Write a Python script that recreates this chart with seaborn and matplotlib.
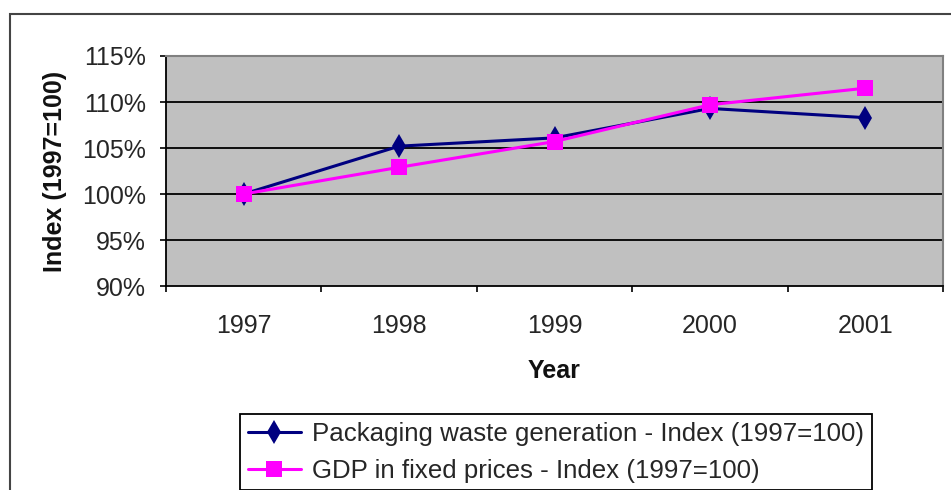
import numpy as np
import pandas as pd
import matplotlib
matplotlib.use("Agg")
import matplotlib.pyplot as plt
from matplotlib.patches import Rectangle
from matplotlib.ticker import FuncFormatter, FixedLocator
import seaborn as sns

# Index values (1997 = 100)
years = ["1997", "1998", "1999", "2000", "2001"]
waste_index = [100.0, 105.2, 106.1, 109.3, 108.3]
gdp_index = [100.0, 102.9, 105.7, 109.7, 111.5]
waste_label = "Packaging waste generation - Index (1997=100)"
gdp_label = "GDP in fixed prices - Index (1997=100)"
y_ticks = [90, 95, 100, 105, 110, 115]

sns.set_theme(style="white")
plt.rcParams["font.family"] = ["Liberation Sans", "DejaVu Sans"]

pos = np.arange(len(years))
df = pd.DataFrame({
    "pos": np.concatenate([pos, pos]),
    "value": waste_index + gdp_index,
    "series": [waste_label] * len(years) + [gdp_label] * len(years),
})

fig = plt.figure(figsize=(9.51, 4.90), dpi=100)
ax = fig.add_axes([166 / 951, 1 - 286 / 490, (943 - 166) / 951, (286 - 56) / 490])
ax.set_facecolor("#C0C0C0")

sns.lineplot(
    data=df, x="pos", y="value", hue="series", style="series",
    palette={waste_label: "#000080", gdp_label: "#FF00FF"},
    markers={waste_label: "d", gdp_label: "s"},
    dashes=False, linewidth=2.2, markersize=12, markeredgewidth=0,
    ax=ax, legend=True,
)

# squares a touch smaller than the diamonds' nominal size
for line in ax.get_lines():
    if line.get_marker() == "s":
        line.set_markersize(11)

ax.set_ylim(90, 115)
ax.set_xlim(-0.5, len(years) - 0.5)
ax.yaxis.set_major_locator(FixedLocator(y_ticks))
ax.yaxis.set_major_formatter(FuncFormatter(lambda v, p: f"{v:.0f}%"))

# category boundaries carry the tick marks, centres carry the labels
ax.set_xticks(np.arange(len(years) + 1) - 0.5)
ax.set_xticklabels([])
ax.set_xticks(pos, minor=True)
ax.set_xticklabels(years, minor=True)

ax.tick_params(axis="x", which="major", direction="out", length=4.5, width=1.2,
               color="black", bottom=True)
ax.tick_params(axis="x", which="minor", length=0, pad=20, labelsize=18,
               labelcolor="#262626")
ax.tick_params(axis="y", direction="out", length=4.5, width=1.2, color="black",
               left=True, pad=10, labelsize=18, labelcolor="#262626")

ax.grid(axis="y", color="black", linewidth=1.3)
ax.grid(axis="x", visible=False)
gl = ax.yaxis.get_gridlines()
gl[0].set_visible(False)
gl[-1].set_visible(False)

for side in ["left", "bottom"]:
    ax.spines[side].set_color("black")
    ax.spines[side].set_linewidth(1.3)
for side in ["top", "right"]:
    ax.spines[side].set_color("#808080")
    ax.spines[side].set_linewidth(1.5)

ax.set_xlabel("Year", fontsize=18, fontweight="bold", color="#111111")
ax.xaxis.set_label_coords(0.5, -0.318)
ax.set_ylabel("Index (1997=100)", fontsize=18, fontweight="bold", color="#111111")
ax.yaxis.set_label_coords(-0.128, 0.5)

handles, labels = ax.get_legend_handles_labels()
ax.legend(
    handles, labels, loc="upper left",
    bbox_to_anchor=(240 / 951, 1 - 414 / 490), bbox_transform=fig.transFigure,
    frameon=True, fancybox=False, edgecolor="black", facecolor="white",
    framealpha=1, fontsize=18.6, handlelength=2.05, handletextpad=0.45,
    labelspacing=0.5, borderpad=0.3, borderaxespad=0,
)
leg = ax.get_legend()
leg.get_frame().set_linewidth(1.3)
for t in leg.get_texts():
    t.set_color("#262626")

# outer chart frame
fig.patches.append(Rectangle((10 / 951, -0.1), 1.2, 1 - 14 / 490 + 0.1,
                             transform=fig.transFigure, fill=False,
                             edgecolor="#444444", linewidth=1.5))

fig.savefig("out.png", dpi=100, facecolor="white")
